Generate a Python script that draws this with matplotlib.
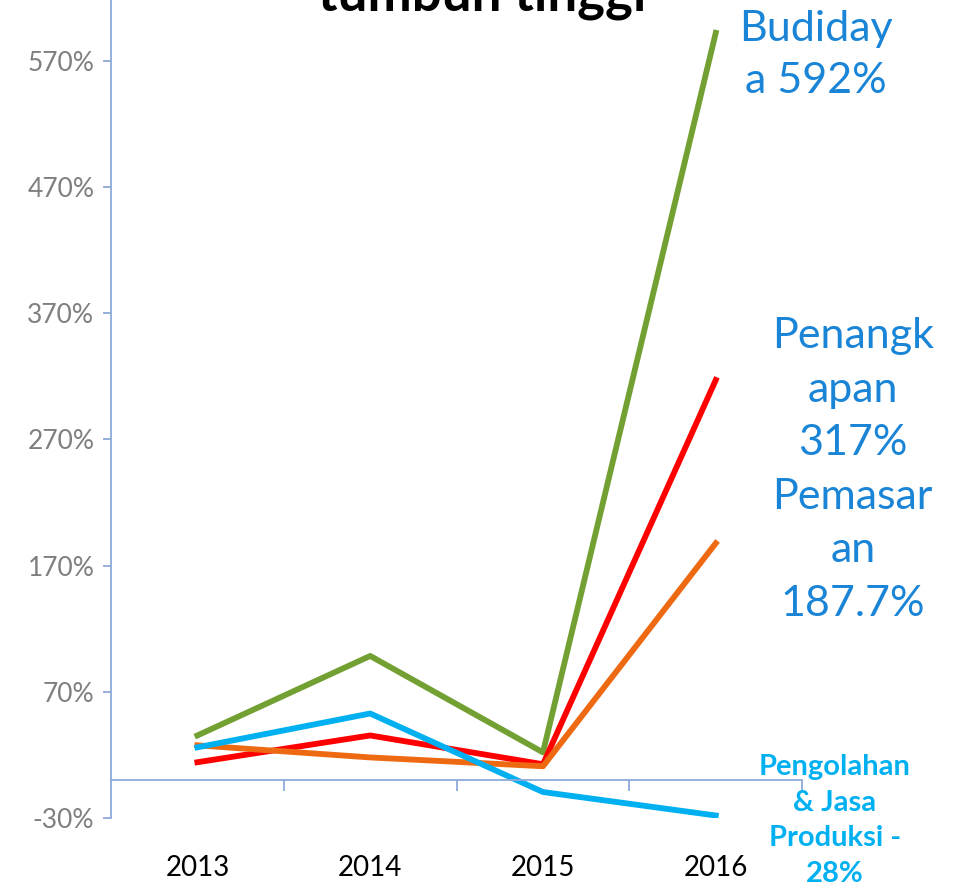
import matplotlib
matplotlib.use("Agg")
import matplotlib.pyplot as plt
from matplotlib.ticker import FixedLocator, FuncFormatter

years = ["2013", "2014", "2015", "2016"]
budidaya = [35.4, 98.4, 22.0, 592.0]
penangkapan = [14.2, 35.4, 12.6, 317.0]
pemasaran = [27.6, 18.0, 11.0, 187.7]
pengolahan = [26.0, 52.8, -9.4, -28.0]
yticks = [-30, 70, 170, 270, 370, 470, 570]

plt.rcParams['font.family'] = ['Lato', 'DejaVu Sans']

axis_col = '#8EAADB'
label_col = '#1A85D6'

fig = plt.figure(figsize=(9.6, 8.88), dpi=100)
ax = fig.add_axes([0.1156, 0.0788, 0.72, 0.9212])

x = range(len(years))
ax.plot(x, budidaya, color='#73A032', lw=4.2)
ax.plot(x, penangkapan, color='#FF0000', lw=4.2)
ax.plot(x, pemasaran, color='#EE6A12', lw=4.2)
ax.plot(x, pengolahan, color='#00B0F0', lw=4.2)

ax.set_xlim(-0.5, 3.5)
ax.set_ylim(-30, 618)

for s in ['top', 'right']:
    ax.spines[s].set_visible(False)
ax.spines['left'].set_color(axis_col)
ax.spines['left'].set_linewidth(1.3)
ax.spines['bottom'].set_position(('data', 0))
ax.spines['bottom'].set_color(axis_col)
ax.spines['bottom'].set_linewidth(1.3)

ax.set_yticks(yticks)
ax.yaxis.set_major_formatter(FuncFormatter(lambda v, p: f"{v:.0f}%"))
ax.tick_params(axis='y', colors=axis_col, length=6, width=1.3, labelsize=19,
               labelcolor='#7F7F7F', pad=6)

ax.set_xticks(list(x))
ax.set_xticklabels(years)
ax.xaxis.set_minor_locator(FixedLocator([0.5, 1.5, 2.5, 3.5]))
ax.tick_params(axis='x', which='major', length=0, pad=54, labelsize=20, labelcolor='black')
ax.tick_params(axis='x', which='minor', length=8, width=1.3, color=axis_col, direction='out')

fig.text(0.502, 1 - 10 / 888, "tumbuh tinggi", ha='center', va='baseline',
         fontsize=38, fontweight='bold', color='black')

ax.annotate("Budiday\na 592%", xy=(3, budidaya[3]), xytext=(100, -22),
            textcoords='offset pixels', ha='center', va='center',
            fontsize=31, color=label_col, linespacing=1.45, annotation_clip=False)
ax.annotate("Penangk\napan\n317%", xy=(3, penangkapan[3]), xytext=(137, -10),
            textcoords='offset pixels', ha='center', va='center',
            fontsize=31, color=label_col, linespacing=1.5, annotation_clip=False)
ax.annotate("Pemasar\nan\n187.7%", xy=(3, pemasaran[3]), xytext=(137, -7),
            textcoords='offset pixels', ha='center', va='center',
            fontsize=31, color=label_col, linespacing=1.5, annotation_clip=False)
ax.annotate("Pengolahan\n& Jasa\nProduksi -\n28%", xy=(3, pengolahan[3]), xytext=(119, -5),
            textcoords='offset pixels', ha='center', va='center',
            fontsize=21, fontweight='bold', color='#00B0F0', linespacing=1.45,
            annotation_clip=False)

fig.savefig("out.png", dpi=100)
